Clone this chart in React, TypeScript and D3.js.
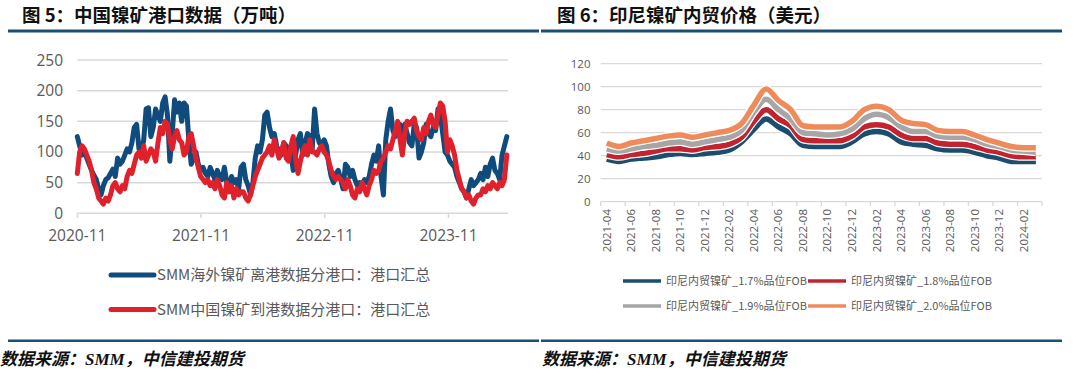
import React from 'react';
import * as d3 from 'd3';

// ---------- Left chart data (weekly, from 2020-11) ----------
const leftStart = new Date(2020, 10, 1);
const departuresLabel = 'SMM海外镍矿离港数据分港口：港口汇总';
const arrivalsLabel = 'SMM中国镍矿到港数据分港口：港口汇总';
const departures = [
  125, 110, 95, 100, 90, 80, 70, 62, 55, 40,
  30, 45, 55, 58, 65, 72, 60, 90, 80, 85,
  95, 105, 100, 115, 140, 145, 105, 100, 120, 170,
  172, 125, 140, 170, 160, 150, 180, 190, 160, 85,
  130, 185, 165, 180, 150, 180, 175, 120, 80, 90,
  100, 80, 70, 75, 65, 60, 75, 65, 55, 70,
  60, 55, 75, 50, 45, 60, 50, 55, 40, 75,
  80, 55, 45, 30, 50, 90, 110, 100, 120, 160,
  165, 140, 125, 130, 110, 100, 95, 115, 110, 105,
  100, 70, 95, 120, 130, 95, 115, 130, 125, 105,
  170, 130, 115, 110, 120, 110, 80, 60, 50, 65,
  70, 55, 40, 80, 75, 60, 70, 55, 45, 50,
  45, 55, 50, 60, 80, 95, 85, 110, 60, 30,
  120, 150, 170, 135, 125, 140, 145, 120, 145, 130,
  115, 110, 145, 140, 90, 100, 115, 145, 130, 125,
  140, 135, 170, 160, 130, 100, 95, 85, 80, 75,
  60, 50, 40, 35, 25, 40, 55, 45, 50, 55,
  65, 55, 75, 60, 80, 90, 70, 65, 55, 95,
  110, 125,
];
const arrivals = [
  65, 100, 110, 105, 95, 85, 70, 50, 40, 25,
  20, 15, 25, 20, 30, 45, 50, 40, 35, 45,
  40, 60, 70, 65, 80, 95, 100, 90, 110, 85,
  95, 105, 100, 85, 115, 140, 130, 150, 145, 120,
  105, 125, 135, 120, 115, 95, 100, 125, 130, 110,
  90, 75, 60, 55, 50, 55, 45, 50, 40, 55,
  45, 30, 25, 50, 35, 45, 25, 40, 30, 35,
  35, 25, 20, 30, 45, 60, 70, 80, 90, 95,
  100, 110, 95, 120, 105, 90, 100, 115, 90, 85,
  110, 125, 90, 65, 85, 100, 110, 95, 120, 100,
  100, 95, 105, 110, 100, 95, 85, 70, 60, 55,
  60, 55, 50, 40, 55, 45, 30, 25, 40, 35,
  50, 40, 30, 45, 55, 70, 65, 70, 85, 90,
  100, 110, 105, 120, 135, 150, 120, 95, 130, 150,
  145, 150, 155, 135, 125, 120, 140, 130, 150, 160,
  145, 140, 160, 180, 175, 150, 100, 120, 110, 95,
  70, 55, 40, 35, 25, 30, 20, 15, 25, 30,
  30, 40, 35, 45, 40, 50, 45, 40, 50, 45,
  55, 95,
];
const leftYTicks = [0, 50, 100, 150, 200, 250];
const leftXTicks = ['2020-11', '2021-11', '2022-11', '2023-11'];

// ---------- Right chart data (monthly) ----------
const months = [
  '2021-04', '2021-05', '2021-06', '2021-07', '2021-08', '2021-09', '2021-10', '2021-11', '2021-12',
  '2022-01', '2022-02', '2022-03', '2022-04', '2022-05', '2022-06', '2022-07', '2022-08', '2022-09',
  '2022-10', '2022-11', '2022-12', '2023-01', '2023-02', '2023-03', '2023-04', '2023-05', '2023-06',
  '2023-07', '2023-08', '2023-09', '2023-10', '2023-11', '2023-12', '2024-01', '2024-02', '2024-03',
];
const fob17 = [37, 35, 37, 38, 39, 41, 42, 41, 42, 43, 45, 52, 63, 72, 65, 59, 49, 48, 48, 48, 52, 59, 61, 59, 52, 50, 49, 46, 45, 45, 43, 40, 38, 35, 35, 35];
const fob18 = [41, 39, 41, 42, 44, 46, 46, 45, 47, 48, 50, 56, 70, 80, 72, 66, 54, 53, 53, 53, 57, 65, 67, 65, 58, 55, 55, 51, 50, 50, 48, 45, 43, 40, 39, 39];
const fob19 = [46, 44, 46, 48, 49, 51, 52, 50, 52, 54, 56, 62, 78, 89, 80, 72, 60, 59, 58, 59, 63, 72, 76, 73, 65, 61, 61, 57, 56, 56, 54, 50, 48, 45, 44, 43];
const fob20 = [51, 48, 51, 53, 55, 57, 58, 56, 58, 60, 62, 68, 84, 98, 88, 80, 66, 65, 65, 65, 70, 80, 83, 80, 71, 68, 67, 62, 61, 61, 58, 54, 51, 48, 47, 47];
const rightSeriesNames = ['印尼内贸镍矿_1.7%品位FOB', '印尼内贸镍矿_1.8%品位FOB', '印尼内贸镍矿_1.9%品位FOB', '印尼内贸镍矿_2.0%品位FOB'];
const rightYTicks = [0, 20, 40, 60, 80, 100, 120];

const GRID = '#d9d9d9';
const TXT = '#595959';
const RULE = '#1d4f70';
const BLUE = '#0f4c7d';
const RED = '#e0212c';
const R_COLORS = ['#1b4e6e', '#c3232f', '#a6a6a6', '#ef8b5b'];
const CJK = "'Noto Sans CJK SC', 'Noto Sans', sans-serif";
const NUM = "'Open Sans', 'Noto Sans CJK SC', sans-serif";
const FOOT = "'Liberation Serif', 'Noto Sans CJK SC', serif";

function parseYM(s: string) {
  const [y, m] = s.split('-').map(Number);
  return new Date(y, m - 1, 1);
}

function LeftChart() {
  const n = departures.length;
  const x = d3.scaleTime().domain([leftStart, d3.timeWeek.offset(leftStart, n - 1)]).range([77.3, 506.8]);
  const y = d3.scaleLinear().domain([0, 250]).range([213.3, 60]);
  const line = d3.line<number>().x((_, i) => x(d3.timeWeek.offset(leftStart, i))).y((d) => y(d));
  return (
    <g>
      <text x={22} y={22} fontFamily={CJK} fontWeight={700} fontSize={18.5} fill="#111">图 5：中国镍矿港口数据（万吨）</text>
      <rect x={8} y={29.5} width={531} height={3} fill={RULE} />
      {leftYTicks.map((t) => (
        <g key={t}>
          <line x1={77.3} x2={508} y1={y(t)} y2={y(t)} stroke={GRID} strokeWidth={1.5} />
          <text x={63} y={y(t) + 5.5} textAnchor="end" fontFamily={NUM} fontSize={15.5} fill={TXT}>{t}</text>
        </g>
      ))}
      {leftXTicks.map((t) => (
        <g key={t}>
          <line x1={x(parseYM(t))} x2={x(parseYM(t))} y1={213.3} y2={218} stroke={GRID} strokeWidth={1.5} />
          <text x={x(parseYM(t))} y={241} textAnchor="middle" fontFamily={NUM} fontSize={15.5} fill={TXT}>{t}</text>
        </g>
      ))}
      <path d={line(departures) || ''} fill="none" stroke={BLUE} strokeWidth={5} strokeLinejoin="round" strokeLinecap="round" />
      <path d={line(arrivals) || ''} fill="none" stroke={RED} strokeWidth={5} strokeLinejoin="round" strokeLinecap="round" />
      <line x1={111} x2={154} y1={275} y2={275} stroke={BLUE} strokeWidth={5} strokeLinecap="round" />
      <text x={157} y={280} fontFamily={CJK} fontSize={15} fill={TXT}>{departuresLabel}</text>
      <line x1={111} x2={154} y1={309.5} y2={309.5} stroke={RED} strokeWidth={5} strokeLinecap="round" />
      <text x={157} y={314.5} fontFamily={CJK} fontSize={15} fill={TXT}>{arrivalsLabel}</text>
      <rect x={8} y={339.5} width={531} height={2.5} fill={RULE} />
      <text x={0} y={365} fontFamily={FOOT} fontStyle="italic" fontWeight={700} fontSize={17} fill="#111">数据来源：SMM，中信建投期货</text>
    </g>
  );
}

function RightChart() {
  const x = d3.scaleBand<string>().domain(months).range([600.7, 1042]);
  const bw = x.bandwidth();
  const y = d3.scaleLinear().domain([0, 120]).range([201.7, 63.7]);
  const line = d3.line<number>().x((_, i) => (x(months[i]) as number) + bw / 2).y((d) => y(d)).curve(d3.curveMonotoneX);
  const series = [fob17, fob18, fob19, fob20];
  const tickIdx = months.map((_, i) => i).filter((i) => i % 2 === 0);
  return (
    <g>
      <text x={557} y={22} fontFamily={CJK} fontWeight={700} fontSize={18.5} fill="#111">图 6：印尼镍矿内贸价格（美元）</text>
      <rect x={541} y={29.5} width={521} height={3} fill={RULE} />
      {rightYTicks.map((t) => (
        <g key={t}>
          <line x1={600.7} x2={1042} y1={y(t)} y2={y(t)} stroke={GRID} strokeWidth={1.3} />
          <text x={590.5} y={y(t) + 4} textAnchor="end" fontFamily={NUM} fontSize={11.5} fill={TXT}>{t}</text>
        </g>
      ))}
      {tickIdx.map((i) => (
        <line key={'t' + i} x1={x(months[i]) as number} x2={x(months[i]) as number} y1={201.7} y2={206} stroke={GRID} strokeWidth={1.3} />
      ))}
      <line x1={1042} x2={1042} y1={201.7} y2={206} stroke={GRID} strokeWidth={1.3} />
      {tickIdx.map((i) => {
        const cx = (x(months[i]) as number) + bw / 2;
        return (
          <text key={'l' + i} transform={`translate(${cx + 4},209) rotate(-90)`} textAnchor="end" fontFamily={NUM} fontSize={11.5} fill={TXT}>{months[i]}</text>
        );
      })}
      {series.map((s, k) => (
        <g key={k}>
          <path d={line(s) || ''} fill="none" stroke="#fff" strokeWidth={8} strokeLinejoin="round" />
          <path d={line(s) || ''} fill="none" stroke={R_COLORS[k]} strokeWidth={5.5} strokeLinejoin="round" />
        </g>
      ))}
      {rightSeriesNames.map((name, k) => {
        const col = k % 2;
        const row = Math.floor(k / 2);
        const lx = col === 0 ? 623 : 808;
        const ly = row === 0 ? 281 : 306;
        return (
          <g key={name}>
            <line x1={lx} x2={lx + 38} y1={ly} y2={ly} stroke={R_COLORS[k]} strokeWidth={3.5} />
            <text x={lx + 43} y={ly + 4} fontFamily={CJK} fontSize={11} fill={TXT}>{name}</text>
          </g>
        );
      })}
      <rect x={541} y={339.5} width={521} height={2.5} fill={RULE} />
      <text x={542} y={365} fontFamily={FOOT} fontStyle="italic" fontWeight={700} fontSize={17} fill="#111">数据来源：SMM，中信建投期货</text>
    </g>
  );
}

export default function App() {
  return (
    <svg width={1080} height={378} style={{ position: 'absolute', left: 0, top: 0, background: '#fff' }}>
      <rect width={1080} height={378} fill="#fff" />
      <LeftChart />
      <RightChart />
    </svg>
  );
}
